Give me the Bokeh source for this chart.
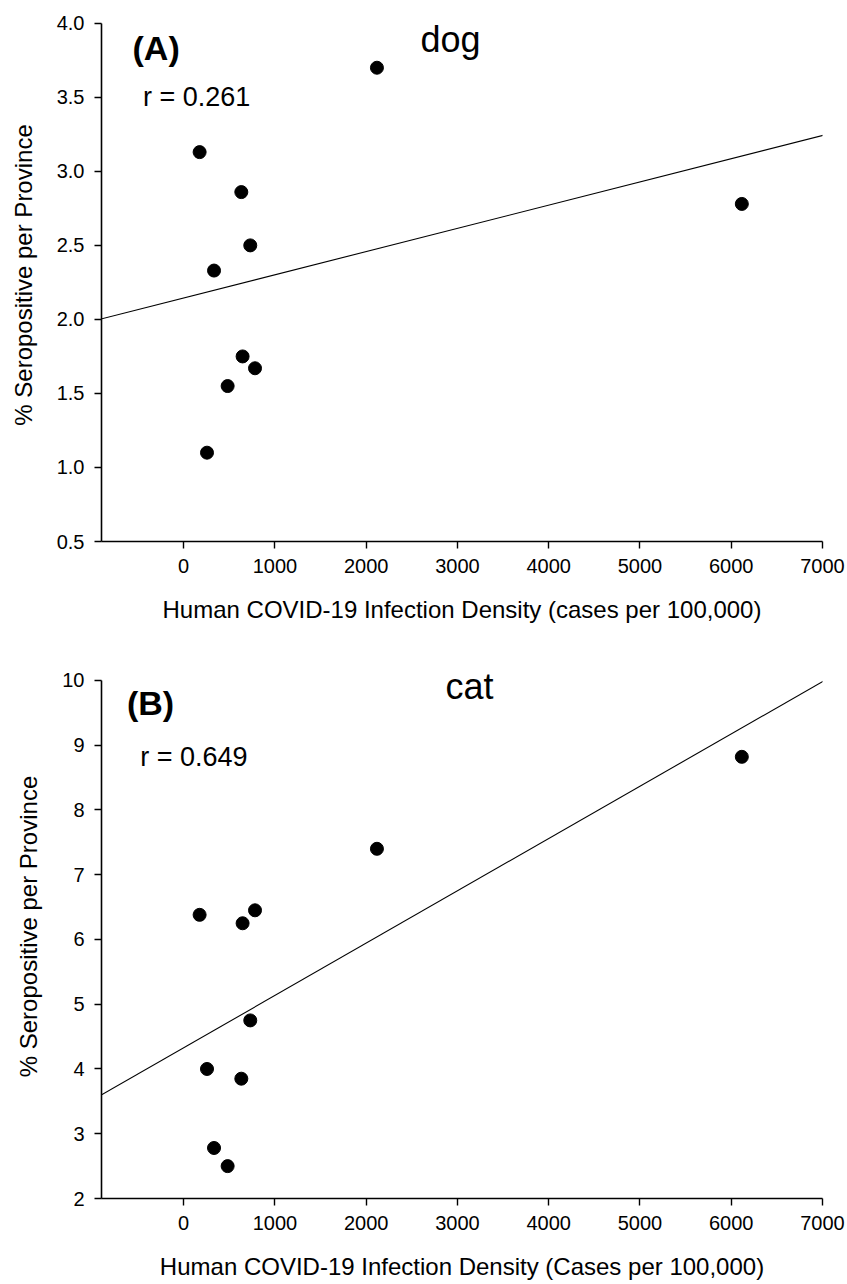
import numpy as np
from bokeh.plotting import figure
from bokeh.models import Label, FixedTicker, Range1d, Slope, NumeralTickFormatter
from bokeh.layouts import column
from bokeh.embed import file_html
from bokeh.resources import INLINE

# ---- data ----
cases = [175, 256, 333, 482, 632, 646, 730, 782, 2118, 6116]
dog = [3.13, 1.10, 2.33, 1.55, 2.86, 1.75, 2.50, 1.67, 3.70, 2.78]
cat = [6.38, 4.00, 2.78, 2.50, 3.85, 6.25, 4.75, 6.45, 7.40, 8.82]
r_dog = "0.261"
r_cat = "0.649"
x_ticks = [0, 1000, 2000, 3000, 4000, 5000, 6000, 7000]
dog_ticks = [0.5, 1.0, 1.5, 2.0, 2.5, 3.0, 3.5, 4.0]
cat_ticks = [2, 3, 4, 5, 6, 7, 8, 9, 10]
x_label_a = "Human COVID-19 Infection Density (cases per 100,000)"
x_label_b = "Human COVID-19 Infection Density (Cases per 100,000)"
y_label = "% Seropositive per Province"

FONT = "Liberation Sans"


def make_panel(yvals, yticks, ytop, yfmt, xlabel, height, mb_top, mb_bottom,
               xlab_standoff, tag, tag_pos, animal, animal_pos, rtxt, r_pos):
    p = figure(width=847, height=height, output_backend="svg",
               toolbar_location=None,
               x_range=Range1d(-900, 7000),
               y_range=Range1d(yticks[0], ytop),
               min_border_left=101, min_border_right=25,
               min_border_top=mb_top, min_border_bottom=mb_bottom)
    p.outline_line_color = None
    p.xgrid.visible = False
    p.ygrid.visible = False
    p.background_fill_color = "white"
    p.border_fill_color = "white"

    for ax in (p.xaxis[0], p.yaxis[0]):
        ax.axis_line_color = "black"
        ax.axis_line_width = 1.6
        ax.major_tick_line_color = "black"
        ax.major_tick_line_width = 1.4
        ax.major_tick_out = 7
        ax.major_tick_in = 0
        ax.minor_tick_line_color = None
        ax.major_label_text_font = FONT
        ax.major_label_text_font_size = "20px"
        ax.major_label_text_color = "black"
        ax.axis_label_text_font = FONT
        ax.axis_label_text_font_size = "24px"
        ax.axis_label_text_font_style = "normal"
        ax.axis_label_text_color = "black"
        ax.major_label_standoff = 10

    p.xaxis.ticker = FixedTicker(ticks=x_ticks)
    p.xaxis.formatter = NumeralTickFormatter(format="0")
    p.xaxis.axis_label = xlabel
    p.xaxis.axis_label_standoff = xlab_standoff

    p.yaxis.ticker = FixedTicker(ticks=yticks)
    p.yaxis.formatter = NumeralTickFormatter(format=yfmt)
    p.yaxis.bounds = (yticks[0], yticks[-1])
    p.yaxis.axis_label = y_label
    p.yaxis.axis_label_standoff = 17

    # regression line
    slope, intercept = np.polyfit(np.array(cases, float), np.array(yvals, float), 1)
    p.add_layout(Slope(gradient=slope, y_intercept=intercept,
                       line_color="black", line_width=1.1))

    p.scatter(x=cases, y=yvals, marker="circle", size=13,
              fill_color="black", line_color="black")

    p.add_layout(Label(x=tag_pos[0], y=tag_pos[1], text=tag,
                       text_font=FONT, text_font_size="34px",
                       text_font_style="bold", text_color="black",
                       text_baseline="alphabetic", text_align="left"))
    p.add_layout(Label(x=animal_pos[0], y=animal_pos[1], text=animal,
                       text_font=FONT, text_font_size="36px",
                       text_color="black",
                       text_baseline="alphabetic", text_align="left"))
    p.add_layout(Label(x=r_pos[0], y=r_pos[1], text="r = " + rtxt,
                       text_font=FONT, text_font_size="27px",
                       text_color="black",
                       text_baseline="alphabetic", text_align="left"))
    return p


pa = make_panel(dog, dog_ticks, 4.1, "0.0", x_label_a, 640, 8, 99, 20,
                "(A)", (-560, 3.836), "dog", (2595, 3.888), r_dog, (-445, 3.50))
pb = make_panel(cat, cat_ticks, 10.4, "0", x_label_b, 644, 14, 86, 20,
                "(B)", (-621, 9.65), "cat", (2870, 9.90), r_cat, (-475, 8.816))

layout = column(pa, pb)
open("out.html", "w").write(file_html(layout, INLINE))
